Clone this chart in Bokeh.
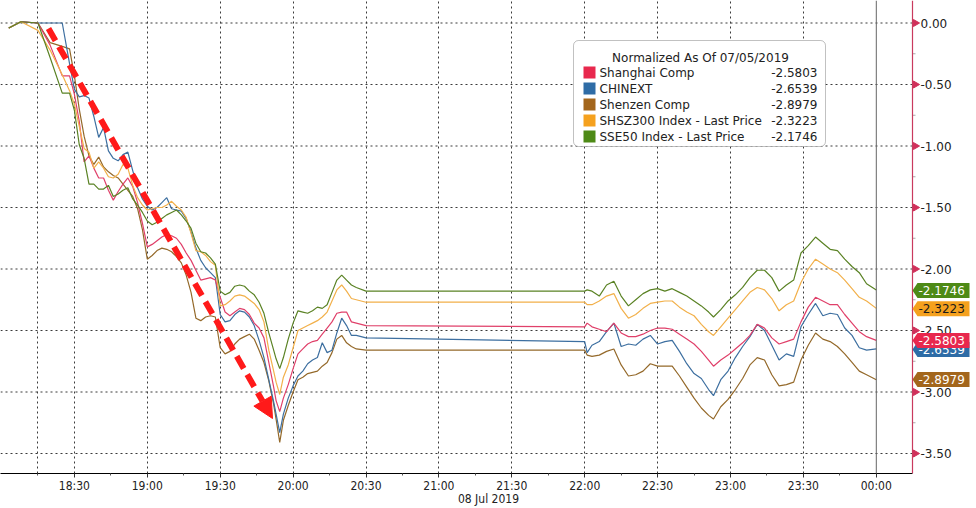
import math
from bokeh.plotting import figure
from bokeh.models import (Range1d, FixedTicker, Span, Label,
                          BoxAnnotation, PolyAnnotation, Arrow, NormalHead)
from bokeh.core.properties import value
from bokeh.embed import file_html
from bokeh.resources import INLINE

# ---------------- data (minutes after 18:00, normalized % change) ----------------
MORNING_MIN = [3, 8, 15, 20, 25, 28, 30, 32, 34, 36, 38, 40, 42, 44, 46, 48, 50, 52, 54, 56,
               58, 60, 62, 64, 66, 68, 70, 72, 74, 76, 78, 80, 82, 84, 86, 88, 90, 92, 94, 96,
               98, 100, 102, 104, 106, 108, 110, 112, 113, 114.5, 116, 118, 120, 122, 124, 126,
               128, 130, 132, 134, 136, 138, 140, 142, 144, 146, 150]
AFTERNOON_MIN = [240, 241, 243, 246, 249, 252, 255, 258, 261, 264, 267, 270, 273, 276, 279, 282,
                 285, 288, 291, 293, 296, 299, 302, 305, 308, 311, 314, 317, 320, 323, 326, 329,
                 332, 335, 338, 341, 344, 347, 350, 353, 356, 360]
MINUTES = MORNING_MIN + AFTERNOON_MIN

SHANGHAI = [-0.04, 0.01, 0.00, -0.18, -0.43, -0.43, -0.58, -0.80, -1.13, -1.08, -1.18, -1.26, -1.26,
            -1.36, -1.44, -1.37, -1.31, -1.26, -1.33, -1.46, -1.63, -1.82, -1.80, -1.77, -1.74,
            -1.72, -1.73, -1.75, -1.80, -1.87, -1.93, -2.01, -2.09, -2.08, -2.07, -2.09, -2.23,
            -2.35, -2.38, -2.35, -2.32, -2.33, -2.37, -2.44, -2.48, -2.56, -2.76, -2.96, -3.07,
            -3.16, -3.05, -2.94, -2.81, -2.69, -2.65, -2.61, -2.59, -2.58, -2.53, -2.48, -2.43,
            -2.36, -2.35, -2.35, -2.43, -2.44, -2.46] + \
           [-2.47, -2.44, -2.47, -2.49, -2.51, -2.44, -2.52, -2.55, -2.55, -2.53, -2.50, -2.48,
            -2.48, -2.49, -2.53, -2.57, -2.61, -2.67, -2.74, -2.79, -2.74, -2.70, -2.65, -2.60,
            -2.54, -2.45, -2.48, -2.56, -2.61, -2.59, -2.57, -2.43, -2.31, -2.23, -2.26, -2.29,
            -2.29, -2.37, -2.44, -2.51, -2.55, -2.58]

CHINEXT = [-0.04, 0.01, 0.00, 0.00, 0.00, -0.33, -0.54, -0.60, -0.59, -0.61, -0.76, -0.93, -0.85,
           -1.04, -1.10, -1.12, -1.07, -1.05, -1.20, -1.34, -1.43, -1.49, -1.52, -1.50, -1.46,
           -1.42, -1.51, -1.52, -1.53, -1.59, -1.70, -1.83, -1.93, -1.99, -2.03, -2.07, -2.37,
           -2.43, -2.42, -2.37, -2.34, -2.35, -2.39, -2.46, -2.58, -2.72, -2.90, -3.08, -3.18,
           -3.33, -3.18, -3.05, -2.95, -2.87, -2.83, -2.77, -2.74, -2.72, -2.60, -2.68, -2.66,
           -2.52, -2.40, -2.46, -2.54, -2.54, -2.56] + \
          [-2.59, -2.68, -2.62, -2.59, -2.51, -2.44, -2.63, -2.61, -2.62, -2.57, -2.54, -2.61,
           -2.59, -2.58, -2.67, -2.77, -2.85, -2.89, -2.98, -3.03, -2.90, -2.83, -2.72, -2.63,
           -2.55, -2.45, -2.50, -2.62, -2.74, -2.69, -2.71, -2.47, -2.37, -2.28, -2.38, -2.36,
           -2.37, -2.48, -2.54, -2.64, -2.66, -2.65]

SHENZEN = [-0.04, 0.01, 0.00, -0.16, -0.19, -0.21, -0.43, -0.70, -0.92, -1.08, -1.15, -1.09, -1.17,
           -1.21, -1.24, -1.26, -1.31, -1.36, -1.41, -1.51, -1.68, -1.92, -1.89, -1.85, -1.83,
           -1.84, -1.86, -1.90, -1.95, -2.05, -2.19, -2.40, -2.42, -2.39, -2.38, -2.39, -2.64,
           -2.69, -2.67, -2.61, -2.57, -2.55, -2.53, -2.57, -2.66, -2.76, -2.91, -3.10, -3.22,
           -3.41, -3.23, -3.11, -3.00, -2.90, -2.88, -2.85, -2.84, -2.83, -2.79, -2.76, -2.68,
           -2.57, -2.54, -2.60, -2.63, -2.65, -2.66] + \
          [-2.66, -2.70, -2.71, -2.70, -2.67, -2.65, -2.78, -2.87, -2.86, -2.83, -2.77, -2.79,
           -2.79, -2.79, -2.87, -2.96, -3.05, -3.13, -3.19, -3.22, -3.12, -3.06, -2.98, -2.89,
           -2.78, -2.72, -2.74, -2.86, -2.95, -2.94, -2.92, -2.74, -2.62, -2.52, -2.57, -2.59,
           -2.63, -2.69, -2.76, -2.83, -2.86, -2.90]

SHSZ300 = [-0.04, 0.01, -0.06, -0.22, -0.42, -0.55, -0.66, -0.84, -1.02, -1.05, -1.18, -1.13, -1.18,
           -1.25, -1.26, -1.23, -1.15, -1.18, -1.32, -1.42, -1.48, -1.52, -1.51, -1.50, -1.50,
           -1.48, -1.45, -1.49, -1.52, -1.58, -1.71, -1.85, -1.86, -1.89, -1.94, -1.97, -2.30,
           -2.29, -2.26, -2.22, -2.21, -2.22, -2.25, -2.28, -2.33, -2.43, -2.66, -2.83, -2.92,
           -3.02, -2.88, -2.78, -2.64, -2.50, -2.48, -2.46, -2.44, -2.42, -2.39, -2.35, -2.26,
           -2.17, -2.13, -2.18, -2.24, -2.25, -2.27] + \
          [-2.27, -2.29, -2.29, -2.26, -2.22, -2.20, -2.32, -2.40, -2.37, -2.32, -2.28, -2.27,
           -2.26, -2.26, -2.31, -2.35, -2.38, -2.45, -2.51, -2.54, -2.47, -2.40, -2.33, -2.26,
           -2.19, -2.15, -2.17, -2.24, -2.34, -2.29, -2.26, -2.11, -2.00, -1.92, -1.96, -2.00,
           -2.03, -2.09, -2.16, -2.23, -2.26, -2.32]

SSE50 = [-0.04, 0.01, 0.00, -0.28, -0.57, -0.57, -0.71, -0.99, -1.10, -1.31, -1.31, -1.35, -1.35,
         -1.32, -1.41, -1.39, -1.36, -1.34, -1.43, -1.48, -1.54, -1.61, -1.64, -1.62, -1.59,
         -1.56, -1.54, -1.52, -1.56, -1.61, -1.67, -1.79, -1.86, -1.87, -1.91, -1.96, -2.18,
         -2.21, -2.19, -2.14, -2.13, -2.14, -2.18, -2.21, -2.27, -2.36, -2.52, -2.66, -2.73,
         -2.81, -2.72, -2.57, -2.44, -2.34, -2.35, -2.36, -2.34, -2.31, -2.32, -2.29, -2.19,
         -2.09, -2.05, -2.09, -2.13, -2.15, -2.18] + \
        [-2.18, -2.17, -2.18, -2.22, -2.13, -2.10, -2.22, -2.30, -2.25, -2.20, -2.17, -2.16,
         -2.18, -2.16, -2.19, -2.22, -2.26, -2.30, -2.35, -2.39, -2.33, -2.26, -2.21, -2.15,
         -2.07, -2.01, -2.01, -2.07, -2.18, -2.13, -2.09, -1.87, -1.81, -1.74, -1.79, -1.84,
         -1.85, -1.92, -1.98, -2.03, -2.12, -2.17]

SERIES_NAMES = ["Shanghai Comp", "CHINEXT", "Shenzen Comp",
                "SHSZ300 Index - Last Price", "SSE50 Index - Last Price"]
LAST_VALUES = [-2.5803, -2.6539, -2.8979, -2.3223, -2.1746]
LEGEND_TITLE = "Normalized As Of 07/05/2019"

TICK_MINUTES = [30, 60, 90, 120, 150, 180, 210, 240, 270, 300, 330, 360]
TICK_LABELS = ["18:30", "19:00", "19:30", "20:00", "20:30", "21:00", "21:30",
               "22:00", "22:30", "23:00", "23:30", "00:00"]
MINOR_MINUTES = [15, 45, 75, 105, 135, 165, 195, 225, 255, 285, 315, 345]
GRID_MINUTES = [15, 30, 60, 90, 120, 150, 180, 210, 240, 270, 300, 330]
DAY_BREAK = 360
DATE_LABEL = "08 Jul 2019"
Y_TICKS = [0.0, -0.5, -1.0, -1.5, -2.0, -2.5, -3.0, -3.5]
Y_LABELS = ["0.00", "-0.50", "-1.00", "-1.50", "-2.00", "-2.50", "-3.00", "-3.50"]
Y_MINOR = [-0.25, -0.75, -1.25, -1.75, -2.25, -2.75, -3.25]

# ---------------- styling ----------------
LINE_COLORS = ["#e0406a", "#3d6fa0", "#94692a", "#f2b04a", "#5a8224"]
TAG_COLORS = ["#e8284d", "#2e6ca6", "#a3661c", "#f5a11e", "#4e8a16"]
TAG_TEXT = ["white", "white", "white", "#1a1a1a", "white"]
AXIS_RED = "#c93a5e"
GRID_COLOR = "#3a3a3a"

# pixel helpers (positioning of guides/annotations only)
X0_PX, PX_PER_MIN = 1.0, 2.43
Y0_PX, PX_PER_UNIT = 22.5, 123.0


def dx(px):
    return (px - X0_PX) / PX_PER_MIN


def dy(py):
    return (Y0_PX - py) / PX_PER_UNIT


FONT = "DejaVu Sans"
FONT_NARROW = "DejaVu Sans Condensed"
AXIS_X = dx(912)

p = figure(frame_width=976, frame_height=473,
           x_range=Range1d(dx(0), dx(976)), y_range=Range1d(dy(473), dy(0)),
           output_backend="svg", toolbar_location=None, y_axis_location=None,
           min_border_left=0, min_border_top=0, min_border_right=0, min_border_bottom=35)
p.outline_line_color = None
p.background_fill_color = "white"
p.border_fill_color = "white"

# x axis
xa = p.xaxis[0]
xa.ticker = FixedTicker(ticks=TICK_MINUTES, minor_ticks=MINOR_MINUTES)
xa.major_label_overrides = {t: l for t, l in zip(TICK_MINUTES, TICK_LABELS)}
xa.bounds = (dx(0), AXIS_X)
xa.axis_line_color = "black"
xa.major_tick_line_color = "#333333"
xa.major_tick_in = 0
xa.major_tick_out = 4
xa.minor_tick_line_color = "#555555"
xa.minor_tick_in = 0
xa.minor_tick_out = 2
xa.major_label_text_font = FONT_NARROW
xa.major_label_text_font_size = "12px"
xa.major_label_text_color = "#222222"
xa.major_label_standoff = 1
xa.axis_label = DATE_LABEL
xa.axis_label_text_font = FONT_NARROW
xa.axis_label_text_font_size = "12px"
xa.axis_label_text_font_style = "normal"
xa.axis_label_text_color = "#222222"
xa.axis_label_standoff = -4

# grids: vertical dotted grid via xgrid, horizontal drawn up to the value axis
p.xgrid.ticker = FixedTicker(ticks=GRID_MINUTES)
p.xgrid.grid_line_color = GRID_COLOR
p.xgrid.grid_line_dash = "2 3"
p.xgrid.grid_line_width = 1
p.ygrid.visible = False
p.segment(x0=[dx(0)] * len(Y_TICKS), x1=[AXIS_X] * len(Y_TICKS), y0=Y_TICKS, y1=Y_TICKS,
          line_color=GRID_COLOR, line_dash="2 3", line_width=1)
p.add_layout(Span(location=DAY_BREAK, dimension="height", line_color="#666666", line_width=1))

# series lines
for vals, col in zip([SHENZEN, CHINEXT, SHANGHAI, SHSZ300, SSE50],
                     [LINE_COLORS[2], LINE_COLORS[1], LINE_COLORS[0], LINE_COLORS[3], LINE_COLORS[4]]):
    p.line(MINUTES, vals, line_color=col, line_width=1.2)

# value axis on the right (drawn at the axis position through the y scale)
p.add_layout(Span(location=AXIS_X, dimension="height", line_color=AXIS_RED, line_width=1.2))
p.scatter(x=[dx(915)] * len(Y_TICKS), y=Y_TICKS, marker="triangle", size=7,
          angle=-math.pi / 2, fill_color="#d0305a", line_color="#d0305a")
p.segment(x0=[AXIS_X] * len(Y_MINOR), x1=[dx(915)] * len(Y_MINOR), y0=Y_MINOR, y1=Y_MINOR,
          line_color="#aaaaaa", line_width=1)
p.text(x=[dx(920)] * len(Y_TICKS), y=Y_TICKS, text=Y_LABELS, text_align="left",
       text_baseline="middle", text_font=value(FONT), text_font_size="12px",
       text_color="#222222")

# red dashed arrow annotation
p.add_layout(Arrow(end=NormalHead(size=20, fill_color="#ff1a1a", line_color="#ff1a1a"),
                   x_start=dx(48), y_start=dy(28), x_end=dx(272), y_end=dy(418),
                   line_color="#ff1a1a", line_width=6, line_dash="14 7"))

# legend box
p.add_layout(BoxAnnotation(left=dx(573), right=dx(825), top=dy(40), bottom=dy(146),
                           fill_color="white", fill_alpha=1, line_color="#333333",
                           line_width=1, border_radius=5))
p.add_layout(Label(x=dx(700), y=dy(57), text=LEGEND_TITLE, text_align="center",
                   text_baseline="middle", text_font=FONT, text_font_size="12px",
                   text_color="#222222"))
for i, (name, last, col) in enumerate(zip(SERIES_NAMES, LAST_VALUES, TAG_COLORS)):
    yc = 72 + 16 * i
    p.add_layout(BoxAnnotation(left=dx(583), right=dx(595), top=dy(yc - 6), bottom=dy(yc + 6),
                               fill_color=col, fill_alpha=1, line_color=None))
    p.add_layout(Label(x=dx(599), y=dy(yc), text=name, text_align="left", text_baseline="middle",
                       text_font=FONT, text_font_size="12px", text_color="#222222"))
    p.add_layout(Label(x=dx(817), y=dy(yc), text=f"{last:.4f}", text_align="right",
                       text_baseline="middle", text_font=FONT, text_font_size="12px",
                       text_color="#222222"))

# last-value tags on the right axis (blue first so red overlays it)
half = 7.5 / PX_PER_UNIT
for idx in [4, 3, 1, 0, 2]:
    v = LAST_VALUES[idx]
    p.add_layout(PolyAnnotation(xs=[dx(912), dx(917), dx(969), dx(969), dx(917)],
                                ys=[v, v + half, v + half, v - half, v - half],
                                fill_color=TAG_COLORS[idx], fill_alpha=1, line_color=None))
    p.add_layout(Label(x=dx(918), y=v, text=f"{v:.4f}", text_align="left",
                       text_baseline="middle", text_font=FONT, text_font_size="12px",
                       text_color=TAG_TEXT[idx]))

open("out.html", "w").write(file_html(p, INLINE))
